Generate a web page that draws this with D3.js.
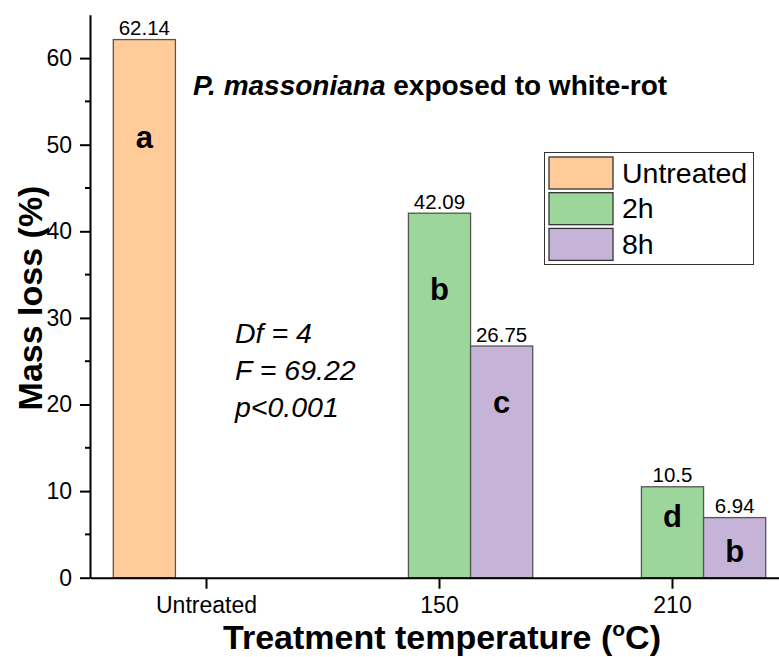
<!DOCTYPE html>
<html>
<head>
<meta charset="utf-8">
<script src="https://cdn.jsdelivr.net/npm/d3@7"></script>
<style>
  body { margin: 0; background: #fff; }
  svg { display: block; font-family: "Liberation Sans", Arial, sans-serif; }
</style>
</head>
<body>
<div id="chart"></div>
<script>
// Categories on the x-axis and the treatment series
var categories = ["Untreated", "150", "210"];
var seriesNames = ["Untreated", "2h", "8h"];
var seriesColors = ["#FFCC99", "#9DD69B", "#C5B3D8"];

// Mass loss values (%) per category / series
var untreatedValues = [62.14, null, null];
var h2Values = [null, 42.09, 10.5];
var h8Values = [null, 26.75, 6.94];

// Significance letters and the height (in data units) where they sit
var letters = [
    {cat: "Untreated", series: "Untreated", text: "a", at: 49.6},
    {cat: "150", series: "2h", text: "b", at: 32.1},
    {cat: "150", series: "8h", text: "c", at: 19.0},
    {cat: "210", series: "2h", text: "d", at: 5.9},
    {cat: "210", series: "8h", text: "b", at: 1.8}
];

var yTicks = [0, 10, 20, 30, 40, 50, 60];
var statsLines = ["Df = 4", "F = 69.22", "p<0.001"];

var width = 779, height = 657;

var svg = d3.select("#chart").append("svg")
    .attr("width", width)
    .attr("height", height);

// Build the flat bar list from the series arrays
var allSeries = [untreatedValues, h2Values, h8Values];
var bars = [];
categories.forEach(function (c, i) {
    allSeries.forEach(function (vals, s) {
        if (vals[i] != null) bars.push({cat: c, series: seriesNames[s], value: vals[i], color: seriesColors[s]});
    });
});

/**
 * SCALES
 */
var x = d3.scaleBand()
    .domain(categories)
    .range([90, 789])
    .paddingInner(0.2)
    .paddingOuter(0.1);

var xSub = d3.scaleBand()
    .domain(seriesNames)
    .range([0, x.bandwidth()]);

var y = d3.scaleLinear()
    .domain([0, 65])
    .range([577.7, 14.8]);

/**
 * BARS
 */
svg.selectAll("rect.bar")
    .data(bars)
    .enter()
    .append("rect")
    .attr("class", "bar")
    .attr("x", function (d) { return x(d.cat) + xSub(d.series); })
    .attr("y", function (d) { return y(d.value); })
    .attr("width", xSub.bandwidth())
    .attr("height", function (d) { return y(0) - y(d.value); })
    .attr("fill", function (d) { return d.color; })
    .attr("stroke", "#555")
    .attr("stroke-width", 1.3);

// Value labels above the bars
svg.selectAll("text.val")
    .data(bars)
    .enter()
    .append("text")
    .attr("class", "val")
    .attr("x", function (d) { return x(d.cat) + xSub(d.series) + xSub.bandwidth() / 2; })
    .attr("y", function (d) { return y(d.value) - 4.5; })
    .attr("text-anchor", "middle")
    .style("font-size", "20.5px")
    .text(function (d) { return d.value; });

// Significance letters inside the bars
svg.selectAll("text.letter")
    .data(letters)
    .enter()
    .append("text")
    .attr("class", "letter")
    .attr("x", function (d) { return x(d.cat) + xSub(d.series) + xSub.bandwidth() / 2; })
    .attr("y", function (d) { return y(d.at); })
    .attr("text-anchor", "middle")
    .style("font-size", "31px")
    .style("font-weight", "bold")
    .text(function (d) { return d.text; });

/**
 * AXES
 */
var yAxis = svg.append("g")
    .attr("transform", "translate(90,0)")
    .call(d3.axisLeft(y).tickValues(yTicks).tickSize(10).tickPadding(8).tickSizeOuter(0));
yAxis.select(".domain").attr("stroke-width", 2);
yAxis.selectAll(".tick line").attr("stroke-width", 2);
yAxis.selectAll(".tick text").style("font-size", "23px").attr("fill", "#000");

// minor ticks on the y-axis
svg.append("g")
    .selectAll("line")
    .data(d3.range(5, 65, 10))
    .enter()
    .append("line")
    .attr("x1", 85).attr("x2", 90)
    .attr("y1", function (d) { return y(d); })
    .attr("y2", function (d) { return y(d); })
    .attr("stroke", "#000")
    .attr("stroke-width", 2);

var xAxis = svg.append("g")
    .attr("transform", "translate(0," + y(0) + ")")
    .call(d3.axisBottom(x).tickSize(11).tickPadding(8).tickSizeOuter(0));
xAxis.select(".domain").attr("stroke-width", 2);
xAxis.selectAll(".tick line").attr("stroke-width", 2);
xAxis.selectAll(".tick text").style("font-size", "23px").attr("fill", "#000");

// Axis titles
var xTitle = svg.append("text")
    .attr("x", 442)
    .attr("y", 649)
    .attr("text-anchor", "middle")
    .style("font-size", "34px")
    .style("font-weight", "bold");
xTitle.append("tspan").text("Treatment temperature (");
xTitle.append("tspan").attr("dy", -13).style("font-size", "21px").text("o");
xTitle.append("tspan").attr("dy", 13).text("C)");

svg.append("text")
    .attr("transform", "translate(42,298) rotate(-90)")
    .attr("text-anchor", "middle")
    .style("font-size", "34px")
    .style("font-weight", "bold")
    .text("Mass loss (%)");

/**
 * TITLE + STATS
 */
var title = svg.append("text")
    .attr("x", 193)
    .attr("y", 95)
    .style("font-size", "28px")
    .style("font-weight", "bold");
title.append("tspan").style("font-style", "italic").text("P. massoniana");
title.append("tspan").text(" exposed to white-rot");

svg.append("g")
    .selectAll("text")
    .data(statsLines)
    .enter()
    .append("text")
    .attr("x", 235)
    .attr("y", function (d, i) { return 343 + i * 37; })
    .style("font-size", "28.5px")
    .style("font-style", "italic")
    .text(function (d) { return d; });

/**
 * LEGEND
 */
var legend = svg.append("g");
legend.append("rect")
    .attr("x", 544.5).attr("y", 152.5)
    .attr("width", 209).attr("height", 112)
    .attr("fill", "#fff")
    .attr("stroke", "#333")
    .attr("stroke-width", 1);

var rows = legend.selectAll("g.row")
    .data(seriesNames)
    .enter()
    .append("g")
    .attr("class", "row")
    .attr("transform", function (d, i) { return "translate(549," + (157 + i * 35.7) + ")"; });

rows.append("rect")
    .attr("width", 64).attr("height", 32)
    .attr("fill", function (d, i) { return seriesColors[i]; })
    .attr("stroke", "#333")
    .attr("stroke-width", 1.3);

rows.append("text")
    .attr("x", 73)
    .attr("y", 25.5)
    .style("font-size", "28.5px")
    .text(function (d) { return d; });
</script>
</body>
</html>
